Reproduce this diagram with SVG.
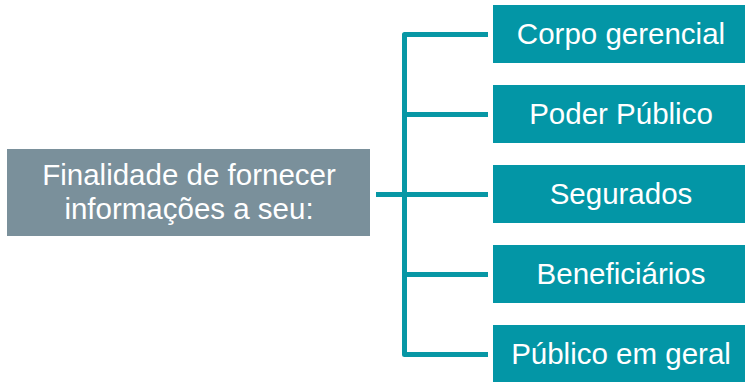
<svg xmlns="http://www.w3.org/2000/svg" width="745" height="382" viewBox="0 0 745 382">
<style>
.conn{fill:none;stroke:#0797A5;stroke-width:5;stroke-linejoin:round}
.src{fill:#7A909B}
.tgt{fill:#0396A6}
.lbl{font-family:"Liberation Sans",Arial,sans-serif;font-size:29.5px;fill:#ffffff;text-anchor:middle}
</style>
<rect width="745" height="382" fill="#ffffff"/>
<g id="connectors">
<path class="conn" d="M488,34.5 H404.5 V354.5 H488"/>
<path class="conn" d="M404.5,114.5 H488"/>
<path class="conn" d="M376,194.5 H488"/>
<path class="conn" d="M404.5,274.5 H488"/>
</g>
<g id="source">
<rect class="src" x="7" y="149" width="363" height="87"/>
<text class="lbl" x="189" y="185">Finalidade de fornecer</text>
<text class="lbl" x="189" y="219">informações a seu:</text>
</g>
<g id="n1">
<rect class="tgt" x="493" y="5" width="254" height="58"/>
<text class="lbl" x="621" y="44">Corpo gerencial</text>
</g>
<g id="n2">
<rect class="tgt" x="493" y="85" width="254" height="58"/>
<text class="lbl" x="621" y="124">Poder Público</text>
</g>
<g id="n3">
<rect class="tgt" x="493" y="165" width="254" height="58"/>
<text class="lbl" x="621" y="204">Segurados</text>
</g>
<g id="n4">
<rect class="tgt" x="493" y="245" width="254" height="58"/>
<text class="lbl" x="621" y="284">Beneficiários</text>
</g>
<g id="n5">
<rect class="tgt" x="493" y="325" width="254" height="58"/>
<text class="lbl" x="621" y="364">Público em geral</text>
</g>
</svg>
